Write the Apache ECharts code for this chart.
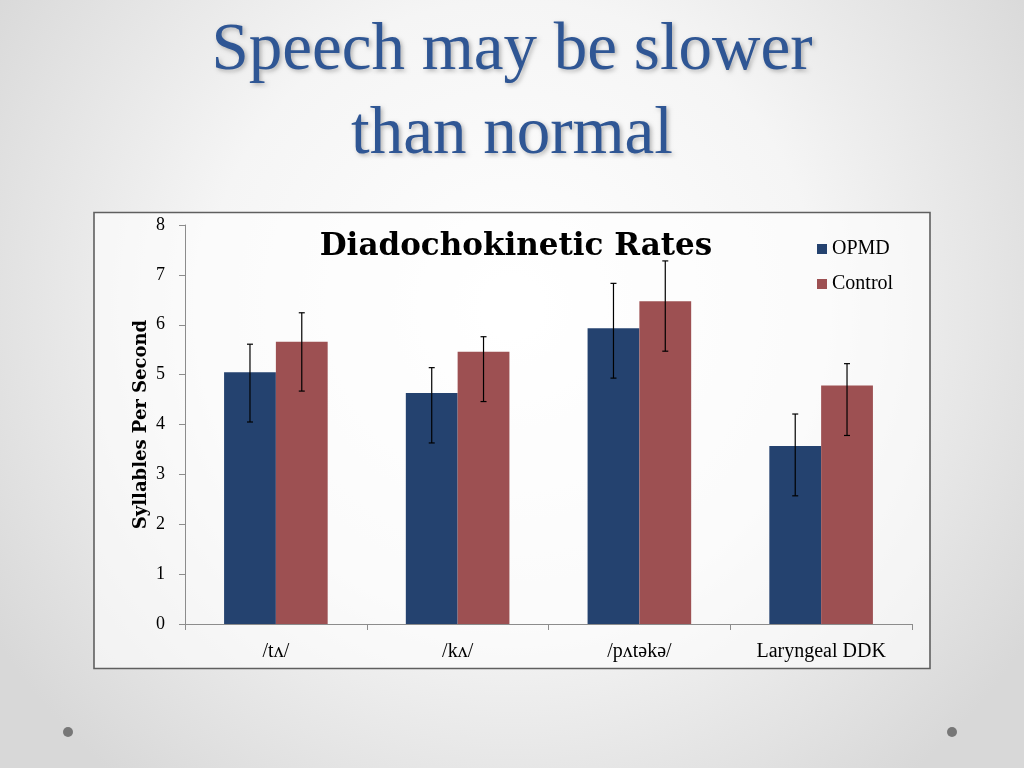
<!DOCTYPE html>
<html>
<head>
<meta charset="utf-8">
<script src="https://cdn.jsdelivr.net/npm/echarts@6/dist/echarts.min.js"></script>
<style>
html,body{margin:0;padding:0;width:1024px;height:768px;overflow:hidden;}
#c{width:1024px;height:768px;}
</style>
</head>
<body>
<div id="c"></div>
<script>
const categories = ['/tʌ/', '/kʌ/', '/pʌtəkə/', 'Laryngeal DDK'];
const opmd = [5.05, 4.63, 5.93, 3.57];
const control = [5.66, 5.46, 6.47, 4.78];
const opmdLow = [4.05, 3.63, 4.93, 2.57];
const opmdHigh = [5.61, 5.14, 6.83, 4.21];
const controlLow = [4.67, 4.46, 5.47, 3.78];
const controlHigh = [6.24, 5.76, 7.28, 5.22];
const yTicks = [0, 1, 2, 3, 4, 5, 6, 7, 8];

const chart = echarts.init(document.getElementById('c'));
const serif = 'Liberation Serif';
const boldSerif = 'DejaVu Serif';
const catGap = 0.43;

function errSeries(name, low, high, side) {
  return {
    type: 'custom',
    name: name + ' err',
    z: 10,
    silent: true,
    data: categories.map((c, i) => [i, low[i], high[i]]),
    encode: { x: 0, y: [1, 2] },
    renderItem: function (params, api) {
      const i = api.value(0);
      const lo = api.coord([i, api.value(1)]);
      const hi = api.coord([i, api.value(2)]);
      const band = api.size([1, 0])[0];
      const bw = band * (1 - catGap) / 2;
      const x = lo[0] + side * bw / 2;
      const cap = 3;
      const st = { stroke: '#000', lineWidth: 1.2 };
      return {
        type: 'group',
        children: [
          { type: 'line', shape: { x1: x, y1: lo[1], x2: x, y2: hi[1] }, style: st },
          { type: 'line', shape: { x1: x - cap, y1: lo[1], x2: x + cap, y2: lo[1] }, style: st },
          { type: 'line', shape: { x1: x - cap, y1: hi[1], x2: x + cap, y2: hi[1] }, style: st }
        ]
      };
    }
  };
}

chart.setOption({
  animation: false,
  backgroundColor: 'transparent',
  graphic: [
    { type: 'rect', z: -10, shape: { x: 0, y: 0, width: 1024, height: 768 },
      style: { fill: { type: 'radial', x: 0.5, y: 0.4, r: 0.8,
        colorStops: [{ offset: 0, color: '#ffffff' }, { offset: 0.5, color: '#f5f5f5' }, { offset: 1, color: '#d8d8d8' }] } } },
    { type: 'rect', z: -5, shape: { x: 94, y: 212.5, width: 836, height: 456 },
      style: { fill: 'rgba(255,255,255,0.6)', stroke: '#5f5f5f', lineWidth: 1.6 } },
    { type: 'circle', z: -5, shape: { cx: 68, cy: 732, r: 5 }, style: { fill: '#777' } },
    { type: 'circle', z: -5, shape: { cx: 952, cy: 732, r: 5 }, style: { fill: '#777' } }
  ],
  title: [
    { text: 'Speech may be slower\nthan normal', left: 'center', top: 4,
      textStyle: { fontFamily: serif, fontSize: 67, fontWeight: 'normal', color: '#2f5694', lineHeight: 84,
        textShadowColor: 'rgba(0,0,0,0.28)', textShadowBlur: 4, textShadowOffsetX: 2, textShadowOffsetY: 2 } },
    { text: 'Diadochokinetic Rates', left: 511, textAlign: 'center', top: 226,
      textStyle: { fontFamily: boldSerif, fontSize: 31, fontWeight: 'bold', color: '#000' } }
  ],
  legend: {
    orient: 'vertical', left: 812, top: 234, itemWidth: 10, itemHeight: 10, itemGap: 15,
    icon: 'rect', selectedMode: false,
    data: ['OPMD', 'Control'],
    textStyle: { fontFamily: serif, fontSize: 20, color: '#000', padding: [0, 0, 0, 0] }
  },
  grid: { left: 185, right: 112, top: 225, bottom: 144 },
  xAxis: {
    type: 'category', data: categories,
    axisLine: { lineStyle: { color: '#8c8c8c', width: 1 } },
    axisTick: { show: true, length: 6, lineStyle: { color: '#8c8c8c' } },
    axisLabel: { fontFamily: serif, fontSize: 20, color: '#000', margin: 18 }
  },
  yAxis: {
    type: 'value', min: yTicks[0], max: yTicks[yTicks.length - 1], interval: 1,
    name: 'Syllables Per Second', nameLocation: 'middle', nameGap: 35, nameRotate: 90,
    nameMoveOverlap: false,
    nameTextStyle: { fontFamily: boldSerif, fontSize: 18, fontWeight: 'bold', color: '#000' },
    axisLine: { show: true, lineStyle: { color: '#8c8c8c', width: 1 } },
    axisTick: { show: true, length: 6, lineStyle: { color: '#8c8c8c' } },
    axisLabel: { fontFamily: serif, fontSize: 18, color: '#000', margin: 20 },
    splitLine: { show: false }
  },
  series: [
    { name: 'OPMD', type: 'bar', data: opmd, barGap: '0%', barCategoryGap: (catGap * 100) + '%',
      itemStyle: { color: '#24426f' } },
    { name: 'Control', type: 'bar', data: control, barGap: '0%', barCategoryGap: (catGap * 100) + '%',
      itemStyle: { color: '#9d5052' } },
    errSeries('OPMD', opmdLow, opmdHigh, -1),
    errSeries('Control', controlLow, controlHigh, 1)
  ]
});
</script>
</body>
</html>
